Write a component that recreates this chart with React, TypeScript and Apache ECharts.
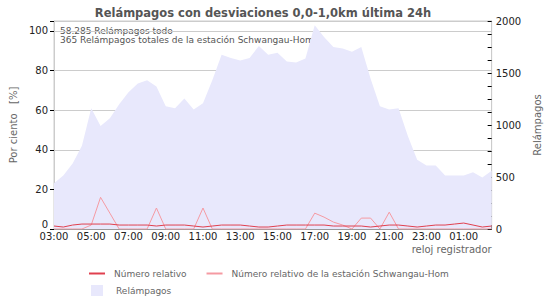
import React, { useEffect, useRef } from "react";
import * as echarts from "echarts";

const times: string[] = [
  "03:00","03:30","04:00","04:30","05:00","05:30","06:00","06:30","07:00","07:30",
  "08:00","08:30","09:00","09:30","10:00","10:30","11:00","11:30","12:00","12:30",
  "13:00","13:30","14:00","14:30","15:00","15:30","16:00","16:30","17:00","17:30",
  "18:00","18:30","19:00","19:30","20:00","20:30","21:00","21:30","22:00","22:30",
  "23:00","23:30","00:00","00:30","01:00","01:30","02:00","02:30",
];

const relampagos: number[] = [
  440, 515, 630, 800, 1160, 990, 1065, 1200, 1315, 1400,
  1430, 1370, 1180, 1160, 1255, 1150, 1210, 1430, 1675, 1645,
  1620, 1645, 1760, 1675, 1695, 1610, 1600, 1640, 1960, 1845,
  1750, 1735, 1705, 1750, 1445, 1180, 1150, 1160, 895, 665,
  610, 610, 515, 515, 515, 545, 495, 560,
];

const numeroRelativo: number[] = [
  1.5, 1, 2, 2.5, 2.5, 2.5, 2.5, 2, 2, 2,
  2, 1.5, 2, 2, 2, 1.5, 1, 1.5, 2, 2,
  2, 1.5, 1, 1, 1.5, 2, 2, 2, 2, 2,
  1.5, 1.5, 1.5, 1.5, 1, 1.5, 2, 2, 1.5, 1,
  1.5, 2, 2, 2.5, 3, 2, 1, 1.5,
];

const numeroRelativoEstacion: number[] = [
  0, 0, 0, 0, 2, 16, 8, 0, 0, 0,
  0, 10.6, 0, 0, 0, 0, 10.6, 0, 0, 0,
  0, 0, 0, 0, 0, 0, 0, 0, 8, 6,
  3.5, 2, 0, 5.5, 5.5, 0, 8.5, 0, 0, 0,
  0, 0, 0, 0, 0, 0, 0, 0,
];

const infoLines: string[] = [
  "58.285 Relámpagos todo",
  "365 Relámpagos totales de la estación Schwangau-Hom",
];

const FONT = "DejaVu Sans";

export default function App() {
  const ref = useRef<HTMLDivElement>(null);
  useEffect(() => {
    if (!ref.current) return;
    const chart = echarts.init(ref.current, null, { renderer: "svg" });
    chart.setOption({
      animation: false,
      backgroundColor: "#ffffff",
      textStyle: { fontFamily: FONT },
      title: {
        text: "Relámpagos con desviaciones 0,0-1,0km última 24h",
        left: 258,
        textAlign: "center",
        top: 2,
        textStyle: { fontFamily: FONT, fontSize: 11.5, fontWeight: "bold", color: "#555555" },
      },
      graphic: [
        {
          type: "text",
          left: 60,
          top: 26,
          style: {
            text: infoLines.join("\n"),
            font: `9px "${FONT}"`,
            fill: "#555555",
            lineHeight: 9,
          },
        },
      ],
      legend: [
        {
          data: ["Número relativo", "Número relativo de la estación Schwangau-Hom"],
          left: 84,
          top: 264,
          itemWidth: 16,
          itemHeight: 2,
          itemGap: 20,
          icon: "rect",
          textStyle: { fontFamily: FONT, fontSize: 9, color: "#666666", padding: [0, 0, 0, 4] },
        },
        {
          data: ["Relámpagos"],
          left: 86,
          top: 280,
          itemWidth: 12,
          itemHeight: 11,
          icon: "rect",
          textStyle: { fontFamily: FONT, fontSize: 9, color: "#666666", padding: [0, 0, 0, 8] },
        },
      ],
      grid: { left: 50, right: 53, top: 21, bottom: 71, show: true, borderColor: "#cccccc", borderWidth: 1 },
      xAxis: {
        type: "category",
        data: times,
        boundaryGap: false,
        name: "reloj registrador",
        nameLocation: "end",
        nameGap: 0,
        nameMoveOverlap: false,
        nameTextStyle: {
          fontFamily: FONT, fontSize: 10, color: "#666666",
          align: "right", verticalAlign: "top", padding: [15, 0, 0, 0],
        },
        axisLine: { lineStyle: { color: "#999999" } },
        axisTick: { show: true, inside: true, interval: 0, length: 4, lineStyle: { color: "#000000" } },
        axisLabel: { interval: 3, fontFamily: FONT, fontSize: 10, color: "#222222", margin: 2 },
        splitLine: { show: false },
      },
      yAxis: [
        {
          type: "value",
          min: 0,
          max: 105,
          interval: 20,
          name: "Por ciento   [%]",
          nameLocation: "middle",
          nameGap: 36,
          nameTextStyle: { fontFamily: FONT, fontSize: 10, color: "#666666" },
          axisLine: { show: true, lineStyle: { color: "#cccccc" } },
          axisTick: { show: true, length: 4, lineStyle: { color: "#000000" } },
          axisLabel: {
            fontFamily: FONT, fontSize: 10, color: "#222222", margin: 6,
            formatter: (v: number) => (v === 0 ? "{z|0}" : v % 20 === 0 ? String(v) : ""),
            rich: { z: { fontFamily: FONT, fontSize: 10, color: "#222222", padding: [0, 0, 9, 0] } },
          },
          splitLine: { show: true, lineStyle: { color: "#cccccc" } },
        },
        {
          type: "value",
          min: 0,
          max: 2000,
          interval: 500,
          name: "Relámpagos",
          nameLocation: "middle",
          nameGap: 40,
          nameTextStyle: { fontFamily: FONT, fontSize: 10, color: "#666666" },
          axisLine: { show: true, lineStyle: { color: "#cccccc" } },
          axisTick: { show: true, inside: true, length: 4, lineStyle: { color: "#000000" } },
          minorTick: { show: true, splitNumber: 4, length: 4, lineStyle: { color: "#000000" } },
          axisLabel: {
            fontFamily: FONT, fontSize: 10, color: "#222222", margin: 4,
            formatter: (v: number) => String(v),
          },
          splitLine: { show: false },
        },
      ],
      series: [
        {
          name: "Relámpagos",
          type: "line",
          yAxisIndex: 1,
          data: relampagos,
          symbol: "none",
          lineStyle: { width: 0 },
          itemStyle: { color: "#e8e8fc" },
          areaStyle: { color: "#e8e8fc", opacity: 1 },
          z: 1,
        },
        {
          name: "Número relativo de la estación Schwangau-Hom",
          type: "line",
          yAxisIndex: 0,
          data: numeroRelativoEstacion,
          symbol: "none",
          lineStyle: { width: 1, color: "#f59aa2" },
          itemStyle: { color: "#f59aa2" },
          z: 3,
        },
        {
          name: "Número relativo",
          type: "line",
          yAxisIndex: 0,
          data: numeroRelativo,
          symbol: "none",
          lineStyle: { width: 1, color: "#e0404f" },
          itemStyle: { color: "#e0404f" },
          z: 4,
        },
      ],
    });
    return () => chart.dispose();
  }, []);
  return <div ref={ref} style={{ width: 550, height: 300, position: "absolute", left: 0, top: 0 }} />;
}
